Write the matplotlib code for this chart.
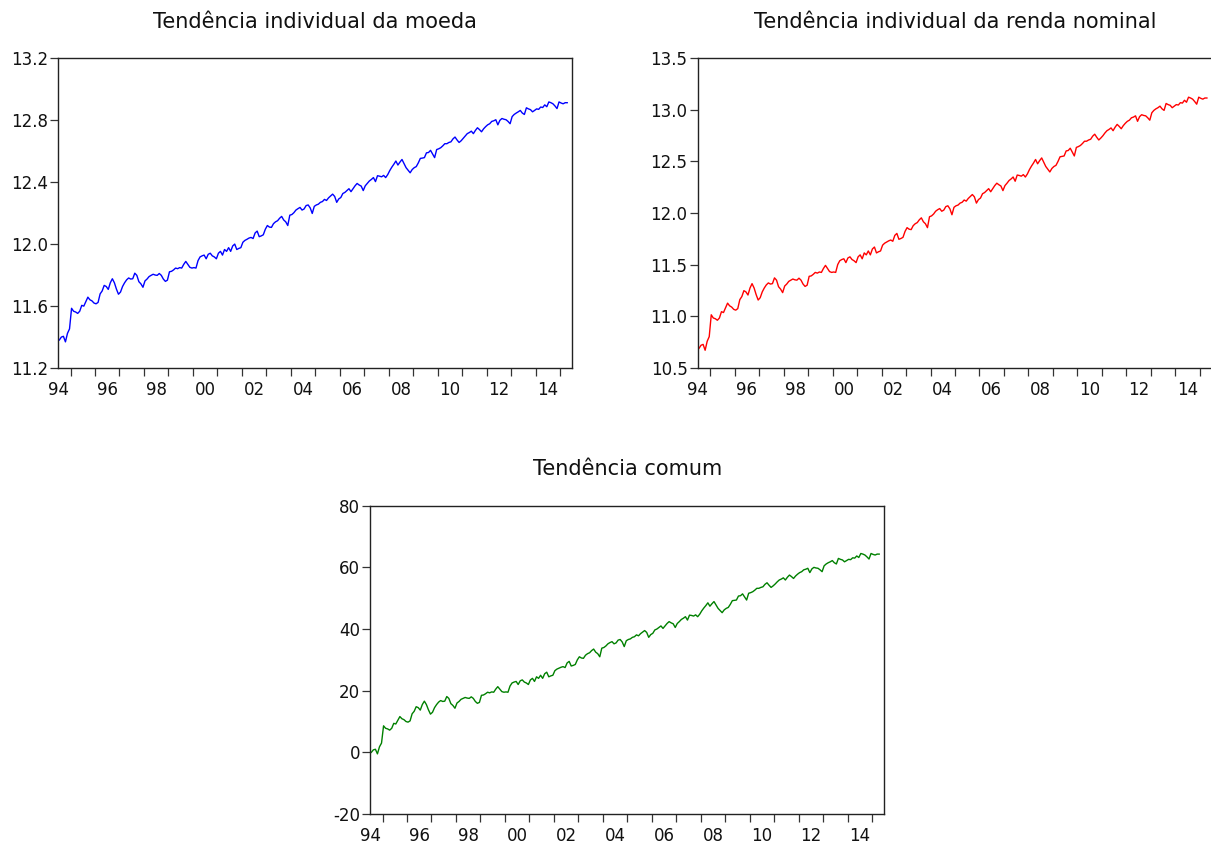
import numpy as np
import matplotlib
matplotlib.use("Agg")
import matplotlib.pyplot as plt
from matplotlib.ticker import FixedLocator, FixedFormatter

# monthly observations, 1994M07 onwards
start_year = 1994.5

comum = [
    0.0, 0.8, 1.0, -0.5, 1.8, 3.0, 8.6, 7.8, 7.6, 7.2, 7.8, 9.4,
    9.2, 10.4, 11.6, 10.9, 10.6, 10.0, 9.8, 10.2, 12.5, 13.3, 14.8, 14.5,
    13.7, 15.5, 16.6, 15.5, 13.8, 12.4, 13.0, 14.5, 15.5, 16.3, 16.8, 16.5,
    16.6, 18.1, 17.5, 15.8, 15.2, 14.3, 16.0, 16.5, 17.2, 17.5, 17.8, 17.6,
    17.5, 18.0, 17.5, 16.5, 15.9, 16.2, 18.5, 18.6, 19.0, 19.5, 19.3, 19.6,
    19.5, 20.5, 21.3, 20.5, 19.7, 19.5, 19.6, 19.5, 21.5, 22.5, 22.8, 23.0,
    22.0, 23.2, 23.5, 22.8, 22.5, 22.0, 23.5, 24.0, 23.0, 24.5, 24.0, 25.0,
    24.0, 25.5, 26.0, 24.5, 24.8, 25.0, 26.5, 27.0, 27.3, 27.6, 27.8, 27.5,
    29.0, 29.5, 28.0, 28.2, 28.5, 30.0, 31.0, 30.6, 30.5, 31.5, 32.0, 32.3,
    33.0, 33.5, 32.5, 32.0, 31.0, 33.8, 34.0, 34.5, 35.2, 35.6, 35.9, 35.2,
    35.5, 36.4, 36.6, 35.8, 34.3, 36.2, 36.6, 36.8, 37.3, 37.5, 38.1, 37.8,
    38.5, 39.0, 39.5, 38.9, 37.3, 38.2, 38.6, 39.7, 40.0, 40.5, 41.0, 40.2,
    41.0, 41.8, 42.4, 42.0, 41.7, 40.5, 41.8, 42.4, 43.1, 43.5, 44.0, 42.9,
    44.5, 44.4, 44.2, 44.6, 44.0, 44.8, 45.9, 46.8, 47.6, 48.5, 47.4, 48.2,
    48.9, 47.8, 46.7, 46.0, 45.3, 46.2, 46.7, 47.0, 48.0, 49.2, 49.3, 49.4,
    50.7, 50.8, 51.4, 50.4, 49.4, 51.6, 51.8, 52.1, 52.6, 53.2, 53.2, 53.5,
    53.7, 54.5, 55.0, 54.2, 53.5, 54.0, 54.6, 55.3, 55.9, 56.2, 56.6, 55.9,
    56.8, 57.5, 57.0, 56.4, 57.2, 57.8, 58.3, 58.6, 59.2, 59.4, 59.7, 58.3,
    59.5, 60.0, 59.8, 59.7, 59.2, 58.6, 60.5, 61.1, 61.5, 61.8, 62.2, 61.5,
    61.1, 62.9, 62.6, 62.4, 61.8, 62.2, 62.6, 62.5, 63.1, 63.0, 63.7, 63.2,
    64.5, 64.3, 64.0, 63.4, 62.7, 64.5, 64.2, 64.0, 64.3, 64.3,
]

moeda = [
    11.379, 11.398, 11.403, 11.367, 11.422, 11.451, 11.584, 11.565, 11.560, 11.551, 11.565, 11.603,
    11.598, 11.627, 11.656, 11.639, 11.632, 11.618, 11.613, 11.622, 11.677, 11.696, 11.732, 11.725,
    11.706, 11.749, 11.775, 11.749, 11.708, 11.675, 11.689, 11.725, 11.749, 11.768, 11.780, 11.773,
    11.775, 11.811, 11.797, 11.756, 11.742, 11.720, 11.761, 11.773, 11.789, 11.797, 11.804, 11.799,
    11.797, 11.809, 11.797, 11.773, 11.758, 11.766, 11.820, 11.823, 11.832, 11.844, 11.840, 11.847,
    11.844, 11.868, 11.887, 11.868, 11.849, 11.844, 11.847, 11.844, 11.892, 11.916, 11.923, 11.928,
    11.904, 11.933, 11.940, 11.923, 11.916, 11.904, 11.940, 11.952, 11.928, 11.964, 11.952, 11.976,
    11.952, 11.987, 11.999, 11.964, 11.971, 11.976, 12.011, 12.023, 12.030, 12.038, 12.042, 12.035,
    12.071, 12.083, 12.047, 12.052, 12.059, 12.095, 12.119, 12.109, 12.107, 12.131, 12.143, 12.150,
    12.166, 12.178, 12.155, 12.143, 12.119, 12.186, 12.190, 12.202, 12.219, 12.228, 12.236, 12.219,
    12.226, 12.248, 12.252, 12.233, 12.197, 12.243, 12.252, 12.257, 12.269, 12.274, 12.288, 12.281,
    12.298, 12.310, 12.322, 12.307, 12.269, 12.291, 12.300, 12.326, 12.333, 12.345, 12.357, 12.338,
    12.357, 12.376, 12.391, 12.381, 12.374, 12.345, 12.376, 12.391, 12.407, 12.417, 12.429, 12.403,
    12.441, 12.438, 12.434, 12.443, 12.429, 12.448, 12.474, 12.496, 12.515, 12.536, 12.510, 12.529,
    12.546, 12.520, 12.493, 12.477, 12.460, 12.481, 12.493, 12.500, 12.524, 12.553, 12.555, 12.558,
    12.589, 12.591, 12.605, 12.582, 12.558, 12.610, 12.615, 12.622, 12.634, 12.648, 12.648, 12.656,
    12.660, 12.679, 12.691, 12.672, 12.656, 12.667, 12.682, 12.698, 12.713, 12.720, 12.729, 12.713,
    12.734, 12.751, 12.739, 12.725, 12.744, 12.758, 12.770, 12.777, 12.792, 12.796, 12.803, 12.770,
    12.799, 12.811, 12.806, 12.803, 12.792, 12.777, 12.823, 12.837, 12.846, 12.854, 12.863, 12.846,
    12.837, 12.880, 12.873, 12.868, 12.854, 12.863, 12.873, 12.870, 12.885, 12.882, 12.899, 12.887,
    12.918, 12.913, 12.906, 12.892, 12.875, 12.918, 12.911, 12.906, 12.913, 12.913,
]

renda = [
    10.688, 10.718, 10.726, 10.669, 10.756, 10.801, 11.013, 10.982, 10.975, 10.960, 10.982, 11.043,
    11.035, 11.081, 11.126, 11.100, 11.088, 11.066, 11.058, 11.073, 11.160, 11.190, 11.247, 11.235,
    11.205, 11.273, 11.315, 11.273, 11.209, 11.156, 11.179, 11.235, 11.273, 11.303, 11.322, 11.311,
    11.315, 11.371, 11.349, 11.285, 11.262, 11.228, 11.292, 11.311, 11.337, 11.349, 11.360, 11.352,
    11.349, 11.368, 11.349, 11.311, 11.288, 11.300, 11.386, 11.390, 11.405, 11.424, 11.417, 11.428,
    11.424, 11.462, 11.492, 11.462, 11.432, 11.424, 11.428, 11.424, 11.500, 11.537, 11.549, 11.556,
    11.519, 11.564, 11.575, 11.549, 11.537, 11.519, 11.575, 11.594, 11.556, 11.613, 11.594, 11.632,
    11.594, 11.651, 11.670, 11.613, 11.624, 11.632, 11.688, 11.707, 11.719, 11.730, 11.738, 11.726,
    11.783, 11.802, 11.745, 11.753, 11.764, 11.821, 11.858, 11.843, 11.839, 11.877, 11.896, 11.907,
    11.934, 11.953, 11.915, 11.896, 11.858, 11.964, 11.972, 11.990, 12.017, 12.032, 12.043, 12.017,
    12.028, 12.062, 12.070, 12.040, 11.983, 12.055, 12.070, 12.077, 12.096, 12.104, 12.126, 12.115,
    12.141, 12.160, 12.179, 12.157, 12.096, 12.130, 12.145, 12.187, 12.198, 12.217, 12.236, 12.206,
    12.236, 12.266, 12.289, 12.274, 12.262, 12.217, 12.266, 12.289, 12.315, 12.330, 12.349, 12.308,
    12.368, 12.364, 12.357, 12.372, 12.349, 12.379, 12.421, 12.455, 12.485, 12.519, 12.477, 12.508,
    12.534, 12.493, 12.451, 12.425, 12.398, 12.432, 12.451, 12.462, 12.500, 12.545, 12.549, 12.553,
    12.602, 12.606, 12.628, 12.591, 12.553, 12.636, 12.644, 12.655, 12.674, 12.696, 12.696, 12.708,
    12.715, 12.745, 12.764, 12.734, 12.708, 12.727, 12.749, 12.776, 12.798, 12.810, 12.825, 12.798,
    12.832, 12.859, 12.840, 12.817, 12.847, 12.870, 12.889, 12.900, 12.923, 12.930, 12.942, 12.889,
    12.934, 12.953, 12.946, 12.942, 12.923, 12.900, 12.972, 12.995, 13.010, 13.021, 13.036, 13.010,
    12.995, 13.062, 13.051, 13.044, 13.021, 13.036, 13.051, 13.047, 13.070, 13.066, 13.093, 13.074,
    13.123, 13.115, 13.104, 13.081, 13.055, 13.123, 13.112, 13.104, 13.115, 13.115,
]

# mid-month positions in fractional years
t = start_year + (np.arange(len(comum)) + 0.5) / 12.0

year_ticks = np.arange(1995, 2016)
label_pos = np.arange(1994, 2015, 2) + 0.5
label_txt = ["%02d" % (y % 100) for y in range(1994, 2015, 2)]

plt.rcParams["font.family"] = "DejaVu Sans"

fig = plt.figure(figsize=(12.11, 8.43), dpi=100)
W, H = 1211.0, 843.0


def make_axes(x0, y_top, y_bot):
    return fig.add_axes([x0 / W, 1 - y_bot / H, 514.0 / W, (y_bot - y_top) / H])


def style(ax, title, ylim, yticks, yfmt):
    ax.set_xlim(1994.5, 2015.5)
    ax.set_ylim(*ylim)
    ax.set_yticks(yticks)
    ax.set_yticklabels([yfmt % v for v in yticks])
    ax.xaxis.set_major_locator(FixedLocator(year_ticks))
    ax.xaxis.set_major_formatter(FixedFormatter([""] * len(year_ticks)))
    ax.xaxis.set_minor_locator(FixedLocator(label_pos))
    ax.xaxis.set_minor_formatter(FixedFormatter(label_txt))
    ax.tick_params(axis="x", which="major", direction="out", length=6, width=0.9, color="#333333")
    ax.tick_params(axis="x", which="minor", length=0, pad=9.5, labelsize=12, labelcolor="#111111")
    ax.tick_params(axis="y", direction="out", length=6, width=0.9, pad=1.5, labelsize=12,
                   color="#333333", labelcolor="#111111")
    for s in ax.spines.values():
        s.set_linewidth(1.0)
        s.set_color("#222222")
    ax.set_title(title, fontsize=15, pad=22, color="#111111")


ax1 = make_axes(58.3, 58.3, 367.7)
ax1.plot(t, moeda, color="#0000ff", lw=1.0)
style(ax1, "Tendência individual da moeda", (11.2, 13.2), [11.2, 11.6, 12.0, 12.4, 12.8, 13.2], "%.1f")

ax2 = make_axes(698.0, 58.3, 367.7)
ax2.plot(t, renda, color="#ff0000", lw=1.0)
style(ax2, "Tendência individual da renda nominal", (10.5, 13.5),
      [10.5, 11.0, 11.5, 12.0, 12.5, 13.0, 13.5], "%.1f")

ax3 = make_axes(370.3, 505.7, 814.0)
ax3.plot(t, comum, color="#008000", lw=1.0)
style(ax3, "Tendência comum", (-20, 80), [-20, 0, 20, 40, 60, 80], "%d")

fig.savefig("out.png", dpi=100)
